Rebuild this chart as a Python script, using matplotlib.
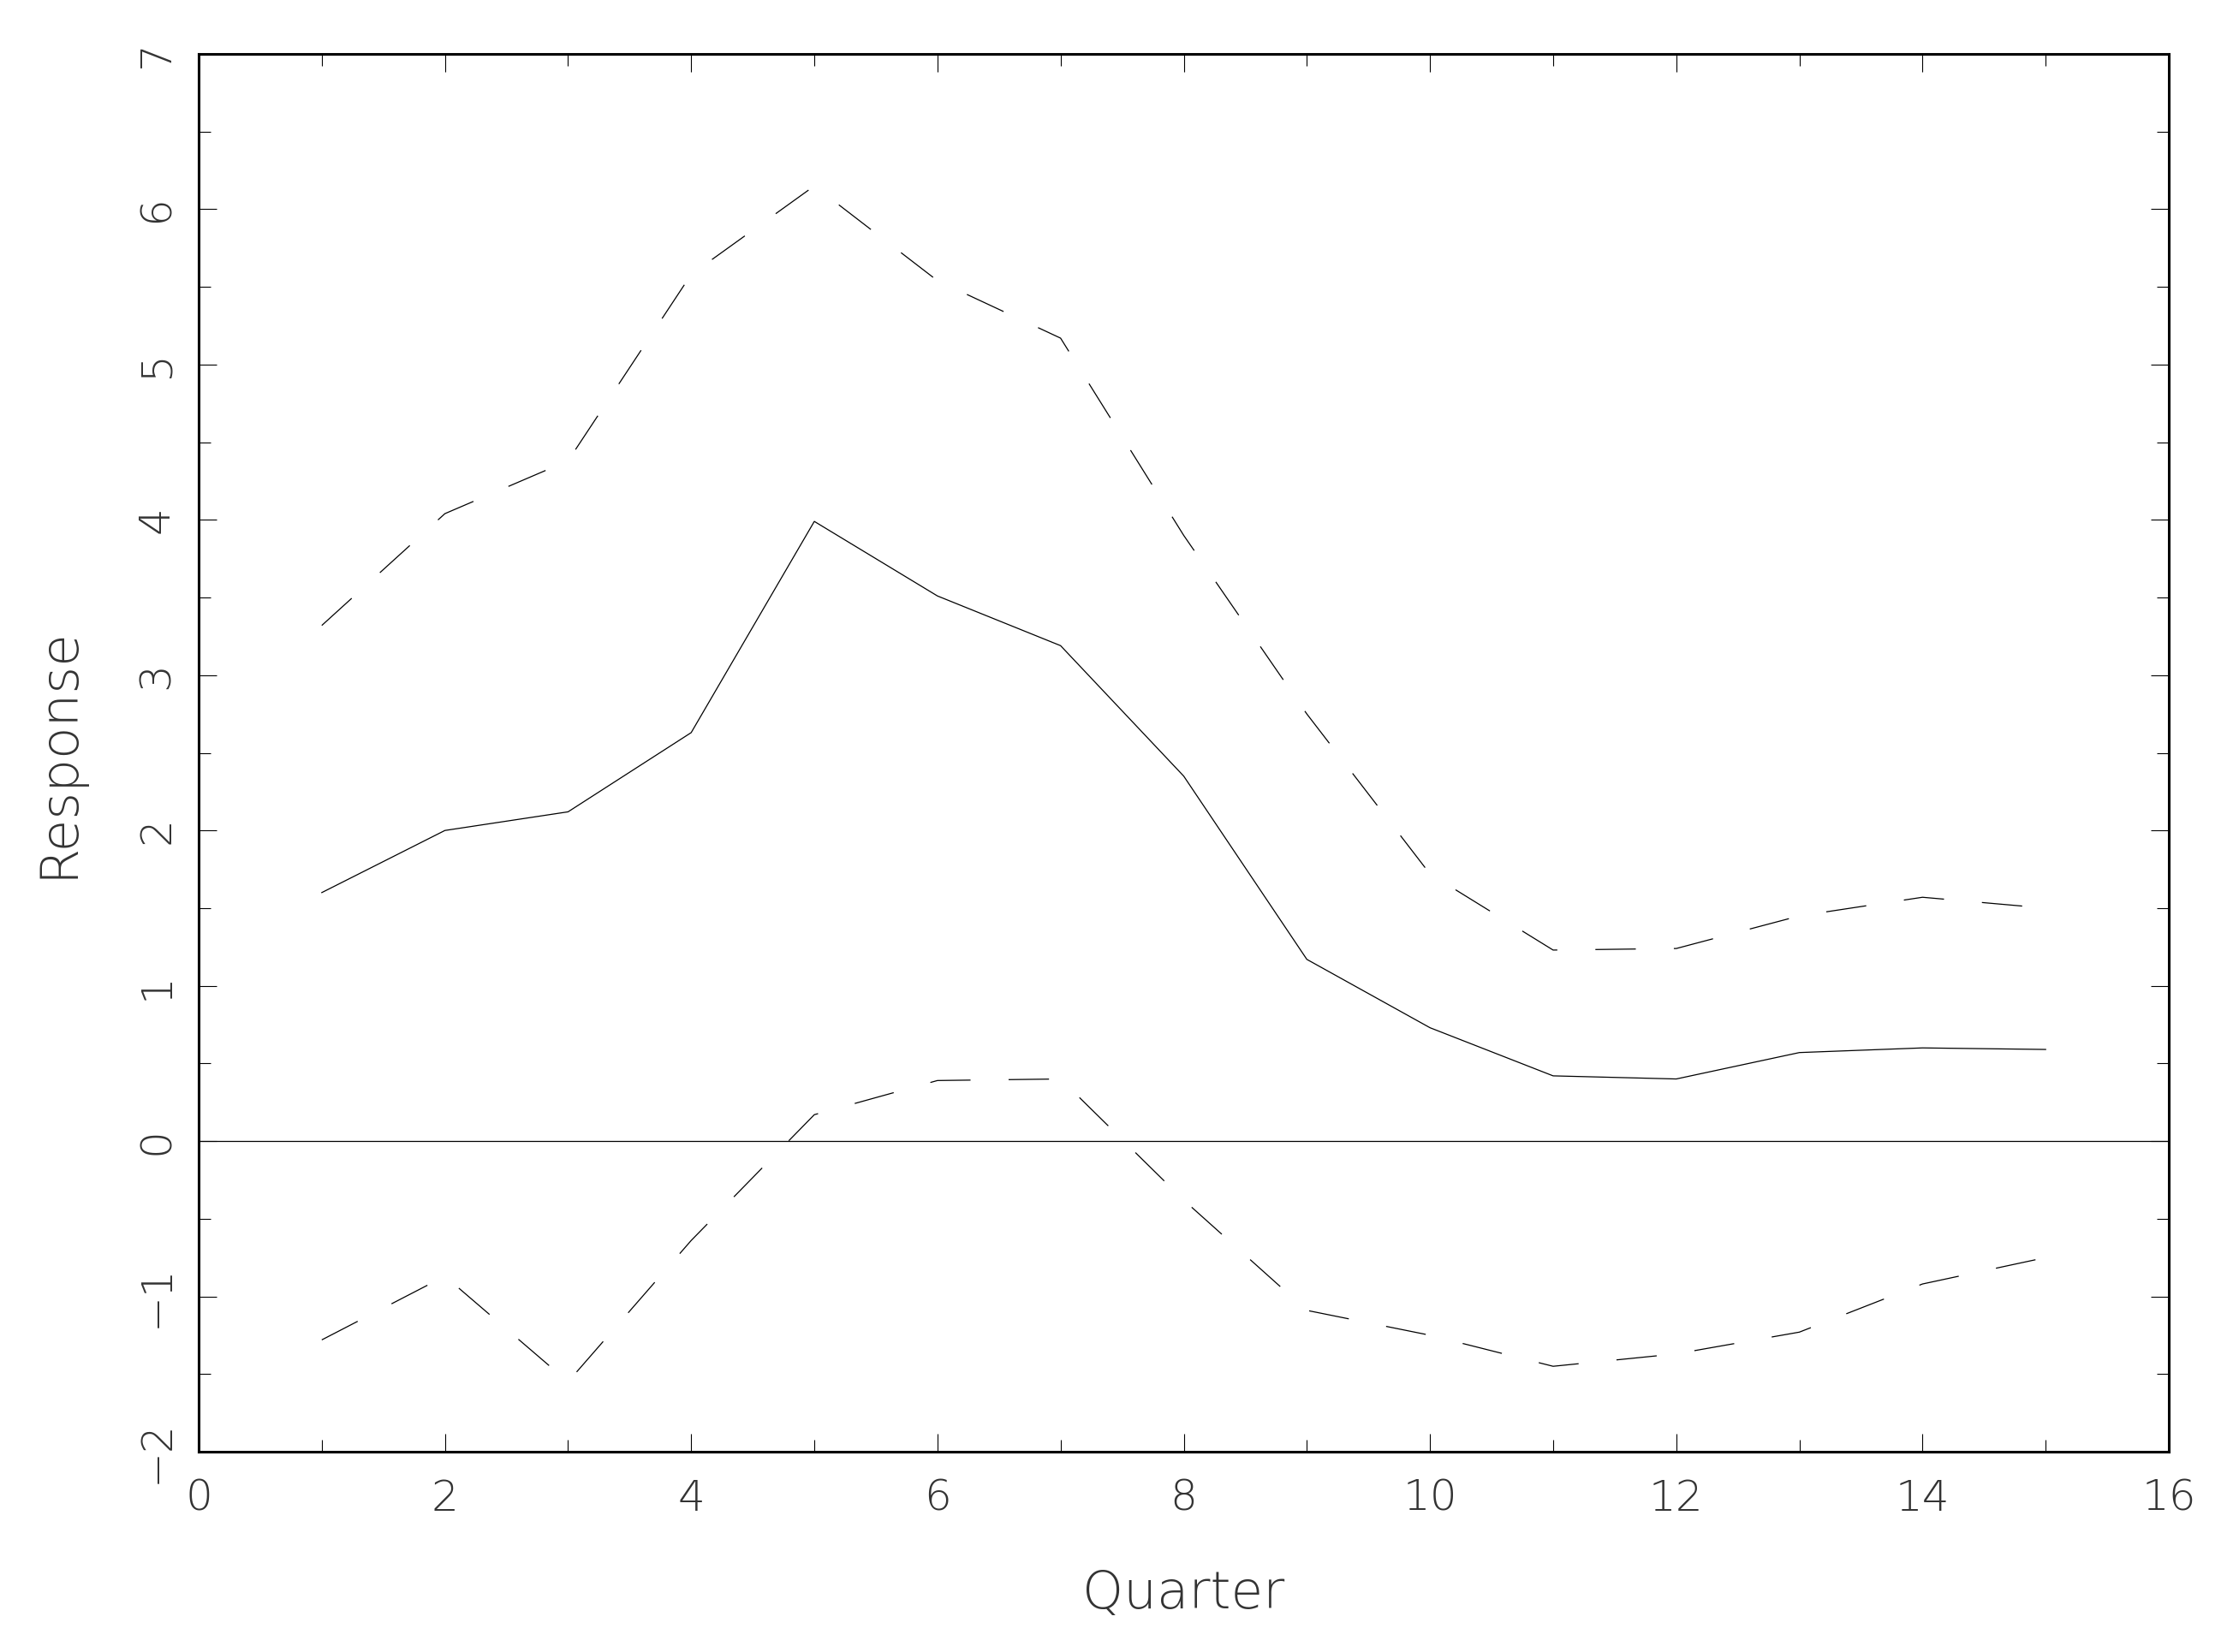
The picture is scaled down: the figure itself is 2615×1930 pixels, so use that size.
import matplotlib
matplotlib.use("Agg")
import matplotlib.pyplot as plt
from matplotlib.ticker import MultipleLocator

quarters = [1, 2, 3, 4, 5, 6, 7, 8, 9, 10, 11, 12, 13, 14, 15]
response = [1.60, 2.00, 2.12, 2.63, 3.99, 3.51, 3.19, 2.35, 1.17, 0.73, 0.42, 0.40, 0.57, 0.60, 0.59]
upper = [3.32, 4.04, 4.38, 5.58, 6.15, 5.54, 5.17, 3.90, 2.75, 1.72, 1.23, 1.24, 1.45, 1.57, 1.50]
lower = [-1.28, -0.87, -1.55, -0.64, 0.17, 0.39, 0.40, -0.38, -1.09, -1.25, -1.45, -1.37, -1.23, -0.92, -0.75]

xticks = [0, 2, 4, 6, 8, 10, 12, 14, 16]
yticks = [-2, -1, 0, 1, 2, 3, 4, 5, 6, 7]

plt.rcParams['lines.scale_dashes'] = False
FONT = ['DejaVu Sans']
TXT = '#333333'

fig = plt.figure(figsize=(26.15, 19.30), dpi=100)
ax = fig.add_axes([232/2615, 1 - 1696/1930, (2533-232)/2615, (1696-63)/1930])

ax.plot(quarters, response, color='black', lw=0.9)
ax.plot(quarters, upper, color='black', lw=0.9, linestyle=(0, (34, 32)))
ax.plot(quarters, lower, color='black', lw=0.9, linestyle=(0, (34, 32)))
ax.axhline(0, color='black', lw=0.9)

ax.set_xlim(0, 16)
ax.set_ylim(-2, 7)
ax.set_xticks(xticks)
ax.set_yticks(yticks)
ax.xaxis.set_minor_locator(MultipleLocator(1))
ax.yaxis.set_minor_locator(MultipleLocator(0.5))

for s in ax.spines.values():
    s.set_linewidth(2.2)

ax.tick_params(which='both', direction='in', top=True, right=True, width=0.8, color='black')
ax.tick_params(which='major', length=15)
ax.tick_params(which='minor', length=10)
ax.tick_params(axis='x', which='major', pad=22, labelsize=36, labelcolor=TXT)
ax.tick_params(axis='y', which='major', pad=18, labelsize=36, labelcolor=TXT, labelrotation=90)
for lab in ax.get_xticklabels() + ax.get_yticklabels():
    lab.set_fontfamily(FONT)
    lab.set_fontweight(200)
for lab in ax.get_yticklabels():
    lab.set_verticalalignment('center')

ax.set_xlabel('Quarter', fontsize=44, color=TXT, family=FONT, fontweight=200, labelpad=42)
ax.set_ylabel('Response', fontsize=44, color=TXT, family=FONT, fontweight=200, labelpad=44)

fig.savefig('out.png', dpi=100)
